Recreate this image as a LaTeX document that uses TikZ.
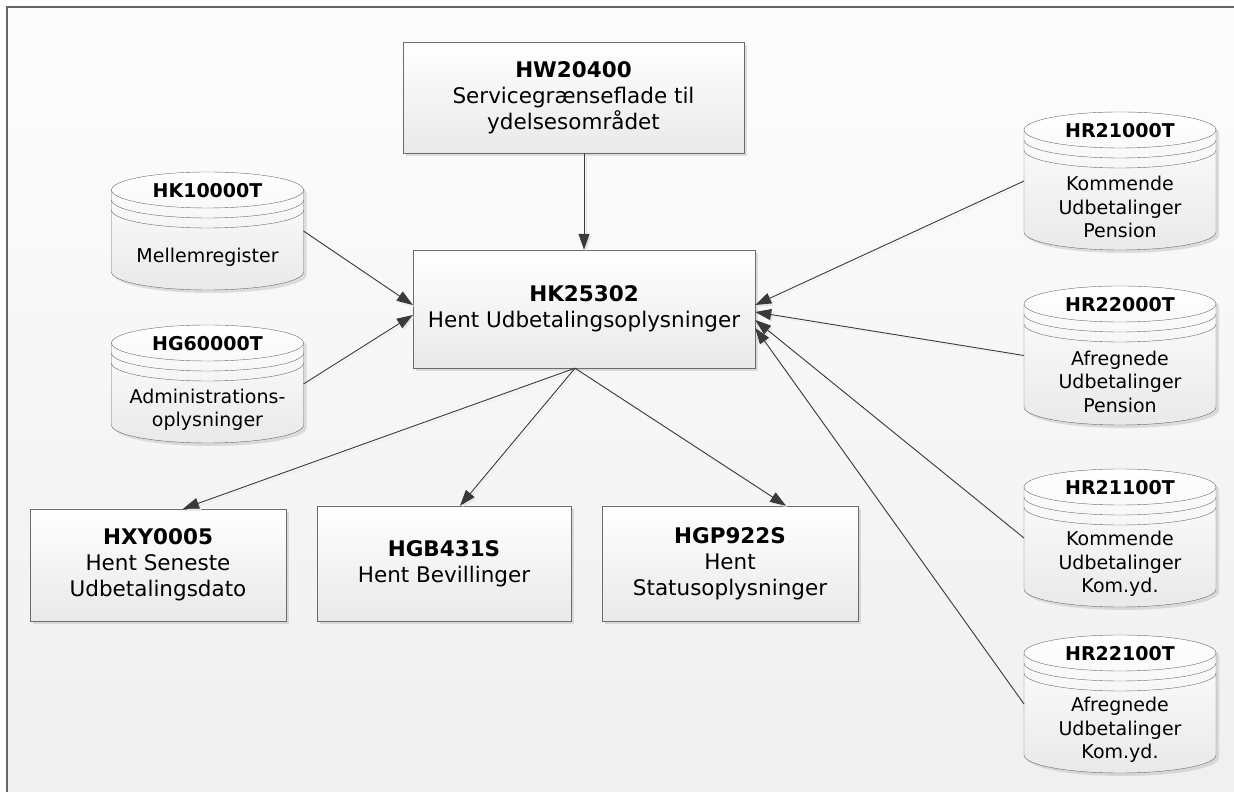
\documentclass[tikz,border=0pt]{standalone}
\usepackage{fontspec}
\setmainfont{DejaVu Sans}
\usetikzlibrary{arrows.meta,shadows}

\definecolor{kant}{HTML}{6B6B6B}
\definecolor{streg}{HTML}{3A3A3A}
\definecolor{bund}{HTML}{E9E9E9}

% database table: name, position, height, title, text
\newcommand{\tabel}[5]{%
  \node[tabel, minimum height=#3] (#1) at (#2) {};
  \path[tabelkrop] ([yshift=-18pt]#1.north west) -- ([yshift=18pt]#1.south west)
    arc[start angle=180, end angle=360, x radius=96pt, y radius=18pt]
    -- ([yshift=-18pt]#1.north east)
    arc[start angle=0, end angle=180, x radius=96pt, y radius=18pt] -- cycle;
  \foreach \d in {18,28,38}
    \draw[tabelstreg] ([yshift=-\d pt]#1.north west) arc[start angle=180, end angle=360, x radius=96pt, y radius=18pt];
  \node[tabelnavn] (#1-navn) at ([yshift=-19pt]#1.north) {#4};
  \node[tabeltekst] (#1-tekst) at ([yshift=-26pt]#1.center) {#5};
}

\begin{document}
\begin{tikzpicture}[x=1pt, y=1pt,
    program/.style={rectangle, draw=kant, top color=white, bottom color=bund,
      drop shadow={shadow xshift=3pt, shadow yshift=-3pt, fill=black!30, opacity=0.4},
      align=center, inner sep=0pt, font=\fontsize{21.5}{26}\selectfont},
    tabel/.style={rectangle, minimum width=192pt, inner sep=0pt, outer sep=0pt},
    tabelkrop/.style={draw=kant, top color=white, bottom color=bund,
      drop shadow={shadow xshift=3pt, shadow yshift=-3pt, fill=black!30, opacity=0.4}},
    tabelstreg/.style={draw=kant},
    tabelnavn/.style={font=\fontsize{19}{23}\selectfont\bfseries},
    tabeltekst/.style={align=center, font=\fontsize{19}{23.5}\selectfont},
    pil/.style={draw=streg, line width=0.9pt, -{Triangle[length=16pt, width=11pt]},
      preaction={draw=black!10, transform canvas={shift={(2pt,-2pt)}}}}]

  \useasboundingbox (0,0) rectangle (1234,792);
  \fill[white] (0,0) rectangle (1234,792);
  \shade[top color=black!1, bottom color=black!6] (7,0) rectangle (1234,785);
  \draw[black!60, line width=1.5pt] (7,0) -- (7,785) -- (1234,785);

  \node[program, minimum width=341pt, minimum height=111pt] (hw)  at (573.5,694.5) {\textbf{HW20400}\\Servicegrænseflade til\\ydelsesområdet};
  \node[program, minimum width=342pt, minimum height=118pt] (hk)  at (584,483)     {\textbf{HK25302}\\Hent Udbetalingsoplysninger};
  \node[program, minimum width=256pt, minimum height=112pt] (hxy) at (158,227)     {\textbf{HXY0005}\\Hent Seneste\\Udbetalingsdato};
  \node[program, minimum width=254pt, minimum height=115pt] (hgb) at (444,228.5)   {\textbf{HGB431S}\\Hent Bevillinger};
  \node[program, minimum width=256pt, minimum height=115pt] (hgp) at (730,228.5)   {\textbf{HGP922S}\\Hent\\Statusoplysninger};

  \tabel{hk10}{207.5,561}{118pt}{HK10000T}{Mellemregister}
  \tabel{hg60}{207.5,408}{118pt}{HG60000T}{Administrations-\\oplysninger}
  \tabel{hr210}{1120,611}{138pt}{HR21000T}{Kommende\\Udbetalinger\\Pension}
  \tabel{hr220}{1120,436.5}{139pt}{HR22000T}{Afregnede\\Udbetalinger\\Pension}
  \tabel{hr211}{1120,254}{138pt}{HR21100T}{Kommende\\Udbetalinger\\Kom.yd.}
  \tabel{hr221}{1120,88}{138pt}{HR22100T}{Afregnede\\Udbetalinger\\Kom.yd.}

  \draw[pil] (hw.south -| hk.north) -- (hk.north);
  \draw[pil] (hk10.east) -- ([yshift=4pt]hk.west);
  \draw[pil] (hg60.east) -- ([yshift=-6pt]hk.west);
  \draw[pil] (hr210.west) -- ([yshift=4pt]hk.east);
  \draw[pil] (hr220.west) -- ([yshift=-3pt]hk.east);
  \draw[pil] (hr211.west) -- ([yshift=-11pt]hk.east);
  \draw[pil] (hr221.west) -- ([yshift=-19pt]hk.east);
  \draw[pil] ([xshift=-9pt]hk.south) -- ([xshift=25pt]hxy.north);
  \draw[pil] ([xshift=-9pt]hk.south) -- ([xshift=16pt]hgb.north);
  \draw[pil] ([xshift=-9pt]hk.south) -- ([xshift=56pt]hgp.north);
\end{tikzpicture}
\end{document}
